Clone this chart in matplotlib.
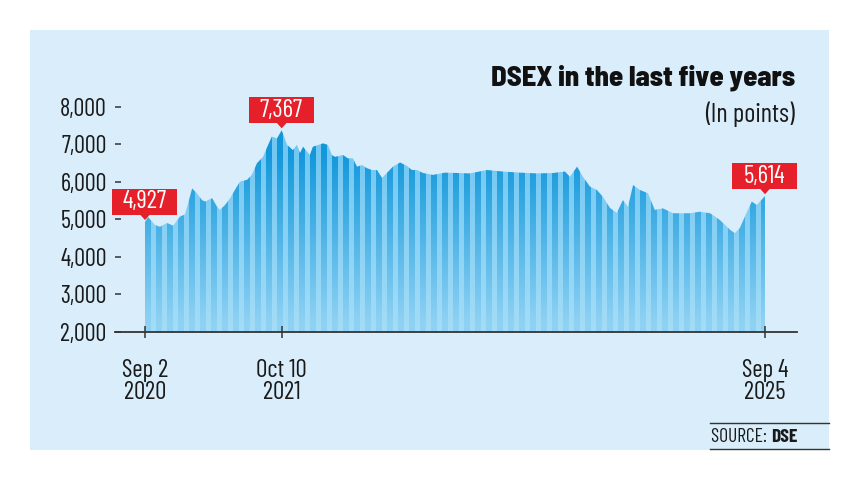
import numpy as np
import pandas as pd
import matplotlib
matplotlib.use("Agg")
import matplotlib.pyplot as plt
import matplotlib.dates as mdates
from matplotlib.patches import Rectangle, Polygon
from matplotlib.transforms import IdentityTransform
from matplotlib.colors import to_rgb

# --- data
DATES = [
    "2020-09-02", "2020-09-11", "2020-10-01", "2020-10-16", "2020-11-06", "2020-11-24",
    "2020-12-14", "2020-12-29", "2021-01-19", "2021-02-02", "2021-02-17", "2021-02-26",
    "2021-03-19", "2021-04-02", "2021-04-11", "2021-04-26", "2021-05-11", "2021-05-25",
    "2021-06-09", "2021-06-30", "2021-07-14", "2021-07-29", "2021-08-16", "2021-08-31",
    "2021-09-11", "2021-09-26", "2021-10-10", "2021-10-26", "2021-11-12", "2021-11-24",
    "2021-12-03", "2021-12-12", "2022-01-01", "2022-01-10", "2022-02-09", "2022-02-23",
    "2022-03-07", "2022-03-16", "2022-04-09", "2022-04-23", "2022-05-08", "2022-05-20",
    "2022-06-04", "2022-06-18", "2022-07-03", "2022-07-18", "2022-08-02", "2022-08-16",
    "2022-09-03", "2022-09-24", "2022-10-14", "2022-10-29", "2022-11-13", "2022-12-01",
    "2022-12-30", "2023-02-03", "2023-04-18", "2023-06-07", "2023-07-24", "2023-09-13",
    "2023-11-02", "2023-12-19", "2024-01-23", "2024-02-07", "2024-02-28", "2024-03-16",
    "2024-04-06", "2024-04-26", "2024-05-14", "2024-06-04", "2024-06-24", "2024-07-12",
    "2024-07-27", "2024-08-11", "2024-08-31", "2024-09-24", "2024-10-14", "2024-11-07",
    "2024-12-07", "2025-01-26", "2025-02-24", "2025-03-26", "2025-04-24", "2025-05-24",
    "2025-06-07", "2025-06-22", "2025-07-13", "2025-07-27", "2025-08-11", "2025-08-29",
    "2025-09-04",
]
DSEX = [
    4927, 5060, 4850, 4800, 4900, 4830,
    5070, 5130, 5820, 5690, 5510, 5470,
    5560, 5340, 5250, 5380, 5560, 5780,
    6000, 6050, 6180, 6490, 6660, 6980,
    7200, 7150, 7367, 6980, 6840, 6980,
    6760, 6930, 6710, 6930, 7020, 6980,
    6710, 6660, 6710, 6620, 6620, 6400,
    6440, 6360, 6310, 6310, 6100, 6230,
    6400, 6510, 6420, 6310, 6310, 6230,
    6180, 6240, 6220, 6310, 6270, 6240,
    6220, 6230, 6270, 6130, 6400, 6130,
    5870, 5780, 5600, 5300, 5170, 5510,
    5330, 5910, 5780, 5690, 5250, 5290,
    5160, 5160, 5200, 5160, 4980, 4720,
    4630, 4770, 5200, 5470, 5380, 5560,
    5614,
]

Y_TICKS = [2000, 3000, 4000, 5000, 6000, 7000, 8000]
X_TICK_DATES = ["2020-09-02", "2021-10-10", "2025-09-04"]
X_TICK_LABELS = ["Sep 2\n2020", "Oct 10\n2021", "Sep 4\n2025"]
CALLOUT_DATES = ["2020-09-02", "2021-10-10", "2025-09-04"]
CALLOUT_VALUES = [4927, 7367, 5614]

TITLE = "DSEX in the last five years"
SUBTITLE = "(In points)"

PANEL = "#d9edfb"
RED = "#e5202a"
INK = "#1a1a1a"

COND = ["Barlow Condensed", "DejaVu Sans"]
HEAVY = ["Barlow Semi Condensed", "DejaVu Sans"]
plt.rcParams["font.family"] = COND

W, H = 859, 484
fig = plt.figure(figsize=(W / 100, H / 100), dpi=100)
fig.patch.set_facecolor("white")

# light blue panel
fig.add_artist(Rectangle((30, H - 450), 799, 420, transform=IdentityTransform(),
                         facecolor=PANEL, edgecolor="none", zorder=0))

ax = fig.add_axes([115 / W, 1 - 332 / H, (797 - 115) / W, (332 - 106.5) / H])
ax.set_facecolor("none")

x = mdates.date2num(pd.to_datetime(DATES))
y = np.array(DSEX, dtype=float)
x0, x1 = x[0], x[-1]
px_day = 620 / (x1 - x0)
ax.set_xlim(x0 - 30 / px_day, x1 + 32 / px_day)
ax.set_ylim(2000, 8000)

# area, filled with a striped gradient clipped to the curve
area = ax.fill_between(x, 2000, y, facecolor="none", edgecolor="none")
ncol, nrow = 620, 300
cols = np.arange(ncol)
dark = (cols % 11) < 6
t = np.linspace(0, 1, nrow)[:, None]          # 0 top, 1 bottom
top_d, bot_d = np.array(to_rgb("#1297da")), np.array(to_rgb("#8fd2f4"))
top_l, bot_l = np.array(to_rgb("#72c8f3")), np.array(to_rgb("#a2dcf7"))
tt = np.clip(t * 1.2 - 0.15, 0, 1)[..., None]
img_d = top_d * (1 - tt) + bot_d * tt
img_l = top_l * (1 - tt) + bot_l * tt
img = np.where(dark[None, :, None], img_d, img_l)
im = ax.imshow(img, extent=(x0, x1, 2000, 7450), aspect="auto",
               interpolation="bilinear", zorder=1)
im.set_clip_path(area.get_paths()[0], transform=ax.transData)

# axes styling
for side in ["top", "right", "left"]:
    ax.spines[side].set_visible(False)
ax.spines["bottom"].set_color("#333333")
ax.spines["bottom"].set_linewidth(1.3)
ax.spines["bottom"].set_zorder(3)

ax.set_yticks(Y_TICKS)
ax.set_yticklabels([f"{v:,}" for v in Y_TICKS])
ax.tick_params(axis="y", direction="in", length=4.5, width=1.1, color="#333333",
               pad=6, labelsize=17.5, labelcolor=INK)

ax.set_xticks(mdates.date2num(pd.to_datetime(X_TICK_DATES)))
ax.set_xticklabels(X_TICK_LABELS, linespacing=0.95)
ax.tick_params(axis="x", direction="inout", length=9, width=1.1, color="#333333",
               pad=15, labelsize=18, labelcolor=INK)

# red callouts
fig.canvas.draw()
for d, v in zip(CALLOUT_DATES, CALLOUT_VALUES):
    px, py = ax.transData.transform((mdates.date2num(pd.Timestamp(d)), v))
    fig.add_artist(Rectangle((px - 33, py + 7), 65, 26, transform=IdentityTransform(),
                             facecolor=RED, edgecolor="none", zorder=5))
    fig.add_artist(Polygon([(px - 5, py + 7.5), (px + 5, py + 7.5), (px, py + 2)],
                           closed=True, transform=IdentityTransform(),
                           facecolor=RED, edgecolor="none", zorder=5))
    fig.text(px - 0.5, py + 20, f"{v:,}", transform=IdentityTransform(),
             ha="center", va="center", color="white", fontsize=18, zorder=6)

# titles
fig.text(795 / W, 1 - 78 / H, TITLE, ha="right", va="center",
         fontsize=20.5, fontweight="heavy", color="#111111", family=HEAVY)
fig.text(795 / W, 1 - 114 / H, SUBTITLE, ha="right", va="center",
         fontsize=19, fontweight="normal", color=INK)

# source
for yy in [423, 449]:
    fig.add_artist(plt.Line2D([710 / W, 829 / W], [1 - yy / H, 1 - yy / H],
                              color="#333333", lw=1.0))
src = fig.text(711 / W, 1 - 437 / H, "SOURCE: ", ha="left", va="center",
               fontsize=14, color=INK)
fig.canvas.draw()
bb = src.get_window_extent()
fig.text(bb.x1 / W, 1 - 437 / H, "DSE", ha="left", va="center",
         fontsize=14, fontweight="bold", color=INK)

fig.savefig("out.png", dpi=100, facecolor="white")
